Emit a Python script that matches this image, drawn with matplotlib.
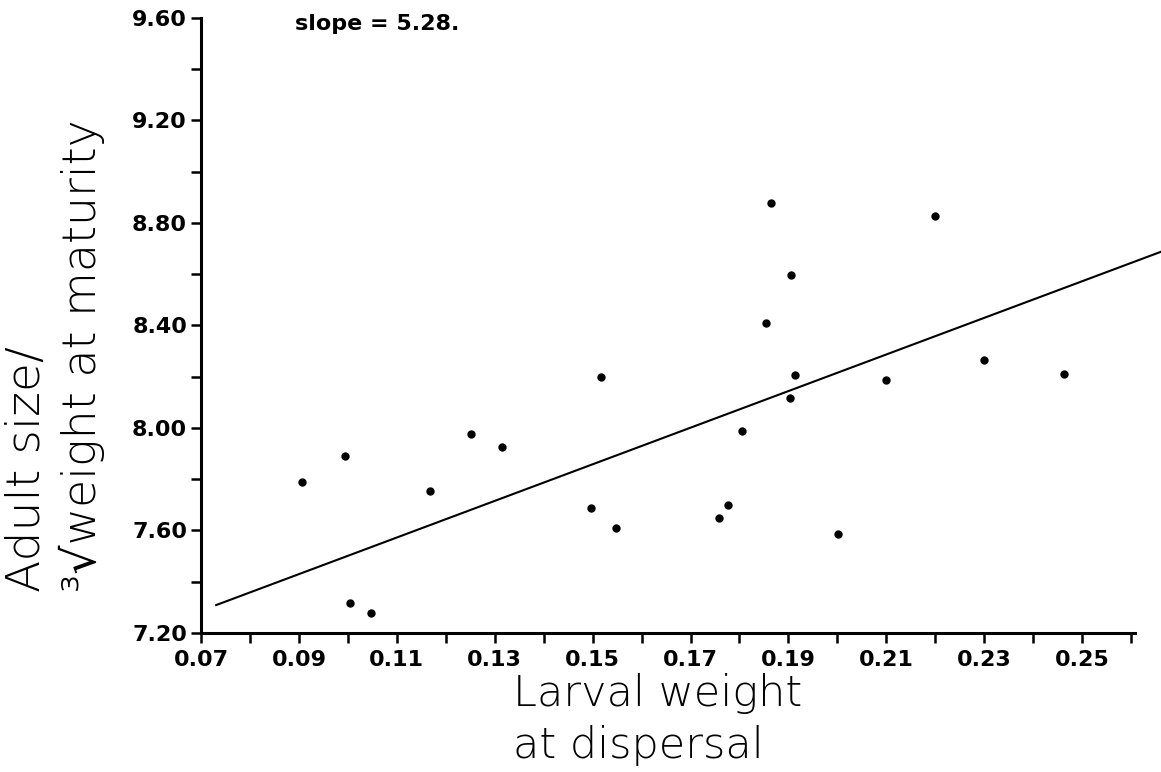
import matplotlib.pyplot as plt
from matplotlib.ticker import MultipleLocator

# larval weight at dispersal vs adult size
larval_weight = [0.0906, 0.0994, 0.1004, 0.1047, 0.1168, 0.1252, 0.1315,
                 0.1497, 0.1517, 0.1548, 0.1758, 0.1777, 0.1806, 0.1855,
                 0.1865, 0.1904, 0.1905, 0.1914, 0.2002, 0.2100, 0.2199,
                 0.2300, 0.2463]
adult_size = [7.789, 7.891, 7.317, 7.278, 7.754, 7.977, 7.926,
              7.688, 8.199, 7.610, 7.648, 7.698, 7.988, 8.409,
              8.877, 8.118, 8.597, 8.208, 7.585, 8.186, 8.826,
              8.267, 8.212]

# fitted line end points
fit_x = [0.0731, 0.266]
fit_y = [7.309, 8.687]

x_ticks = [0.07, 0.09, 0.11, 0.13, 0.15, 0.17, 0.19, 0.21, 0.23, 0.25]
y_ticks = [7.20, 7.60, 8.00, 8.40, 8.80, 9.20, 9.60]

fig = plt.figure(figsize=(11.61, 7.72), dpi=100)
ax = fig.add_axes([201 / 1161, 1 - 633 / 772, (1135 - 201) / 1161, (633 - 18) / 772])

ax.plot(larval_weight, adult_size, 'o', color='black', markersize=5)
ax.plot(fit_x, fit_y, '-', color='black', linewidth=1.5, clip_on=False)

ax.set_xlim(0.07, 0.2608)
ax.set_ylim(7.20, 9.60)

ax.set_xticks(x_ticks)
ax.set_xticklabels([f'{v:.2f}' for v in x_ticks])
ax.set_yticks(y_ticks)
ax.set_yticklabels([f'{v:.2f}' for v in y_ticks])
ax.xaxis.set_minor_locator(MultipleLocator(0.01))
ax.yaxis.set_minor_locator(MultipleLocator(0.2))

for side in ['top', 'right']:
    ax.spines[side].set_visible(False)
for side in ['left', 'bottom']:
    ax.spines[side].set_linewidth(2.2)

ax.tick_params(axis='both', which='both', direction='out', width=1.8, color='black')
ax.tick_params(axis='x', which='both', length=7, pad=5, labelsize=16)
ax.tick_params(axis='y', which='both', length=7, pad=3, labelsize=16)
for lab in ax.get_xticklabels() + ax.get_yticklabels():
    lab.set_fontweight('bold')

ax.text(0.0892, 9.577, 'slope = 5.28.', fontsize=16, fontweight='bold',
        ha='left', va='center')

label_kw = dict(family=['DejaVu Sans', 'Noto Sans', 'DejaVu Serif'],
                fontweight='light', color='black')
fig.text(27 / 1161, 1 - 592 / 772, 'Adult size/', rotation=90,
         ha='center', va='bottom', fontsize=34, **label_kw)
fig.text(82 / 1161, 1 - 592 / 772, '³√weight at maturity', rotation=90,
         ha='center', va='bottom', fontsize=33, **label_kw)
fig.text(513 / 1161, 1 - 693 / 772, 'Larval weight', ha='left', va='center',
         fontsize=31, **label_kw)
fig.text(513 / 1161, 1 - 745 / 772, 'at dispersal', ha='left', va='center',
         fontsize=31, **label_kw)

fig.savefig('out.png', dpi=100)
